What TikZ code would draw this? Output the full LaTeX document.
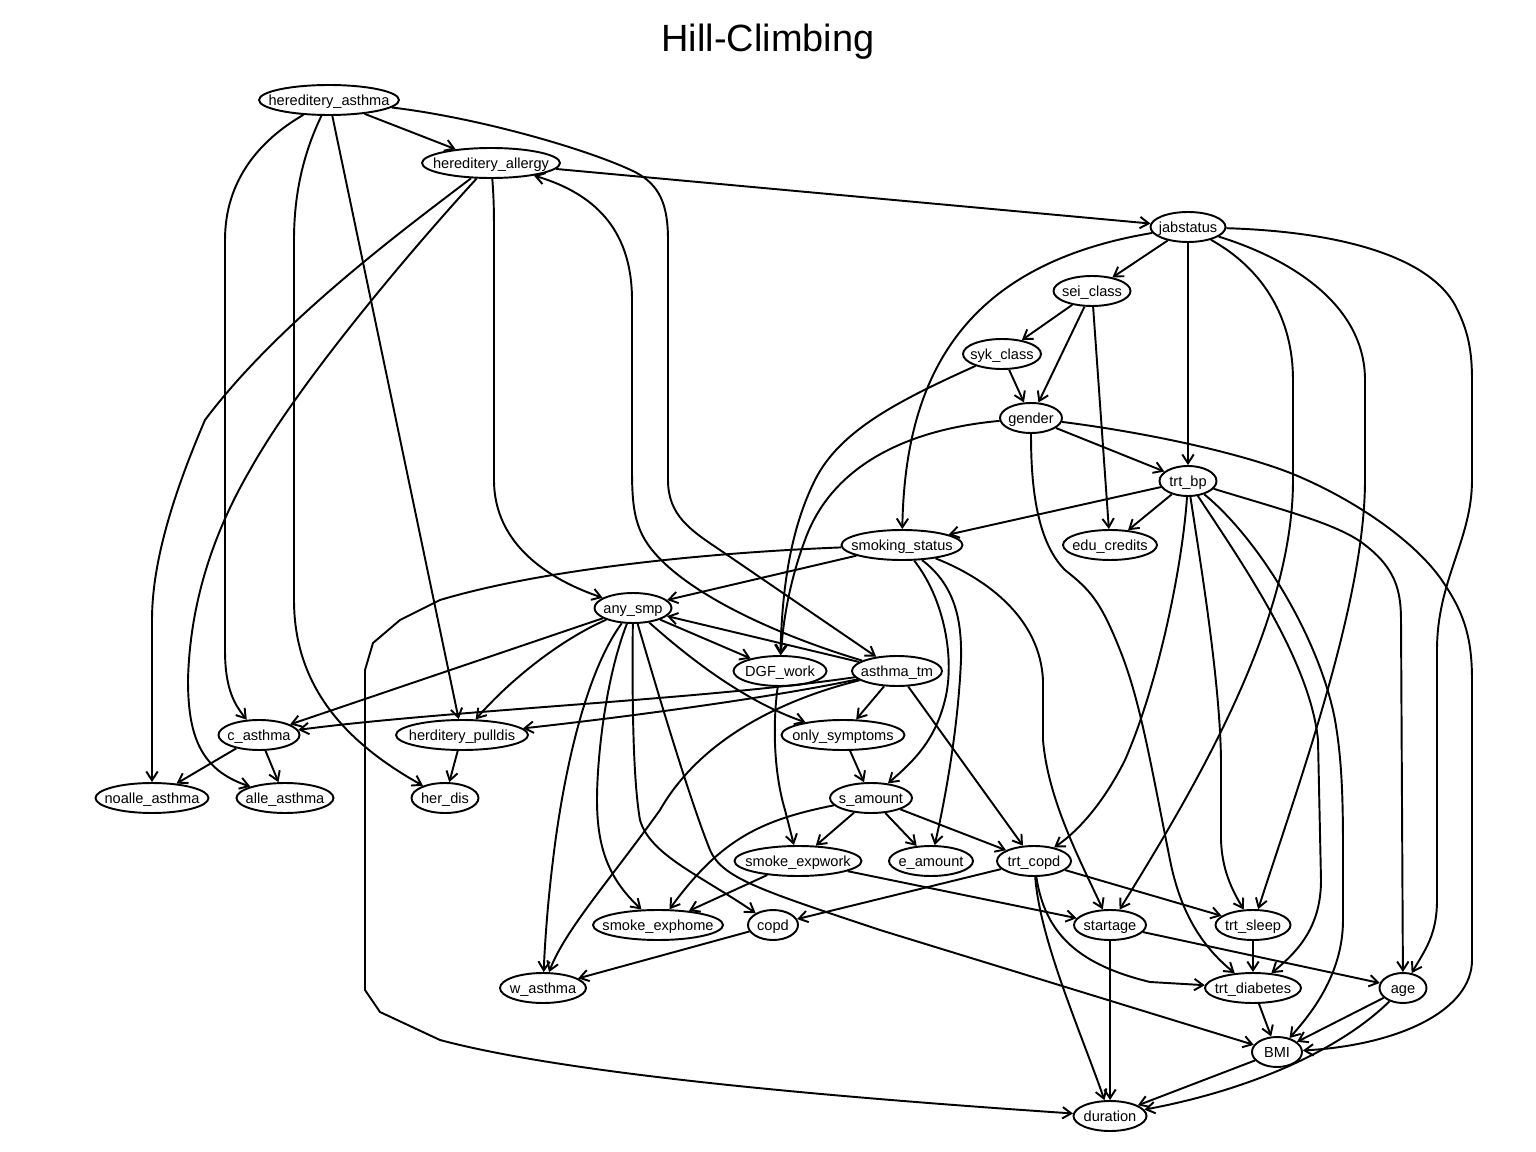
\documentclass[tikz,border=0pt]{standalone}
\usepackage{fontspec}
\setmainfont{Liberation Sans}
\usetikzlibrary{shapes.geometric,arrows.meta}

\begin{document}
\begin{tikzpicture}[x=0.02cm, y=-0.02cm,
        bn/.style={draw, ellipse, line width=1.1pt, inner sep=0pt, minimum height=0.6cm,
            text height=6pt, text depth=0pt, font=\fontsize{8.3}{10}\selectfont},
        edge/.style={line width=1.1pt, -{Straight Barb[length=5pt,width=6.5pt]}}]
    \useasboundingbox (0,0) rectangle (1536,1152);
    \node [anchor=base, font=\fontsize{21.6}{26}\selectfont] (title) at (768,52) {Hill-Climbing};
    \foreach \nm/\px/\py/\wd/\lbl in {
        hasthma/329/100/140/hereditery\_asthma,
        hallergy/491/163/138/hereditery\_allergy,
        jab/1188/227/75/jabstatus,
        sei/1092/291/77/sei\_class,
        syk/1002/354/78/syk\_class,
        gender/1031/418/62/gender,
        trtbp/1188/481/57/trt\_bp,
        smoking/902/545/121/smoking\_status,
        edu/1110/545/94/edu\_credits,
        anysmp/633/608/77/any\_smp,
        dgf/780/671/93/DGF\_work,
        asthmatm/897/671/90/asthma\_tm,
        casthma/259/735/81/c\_asthma,
        pulldis/462/735/132/herditery\_pulldis,
        onlysym/843/735/123/only\_symptoms,
        noalle/152/798/113/noalle\_asthma,
        alle/285/798/97/alle\_asthma,
        herdis/445/798/67/her\_dis,
        samount/871/798/82/s\_amount,
        expwork/798/861/127/smoke\_expwork,
        eamount/931/861/84/e\_amount,
        trtcopd/1034/861/74/trt\_copd,
        exphome/658/925/130/smoke\_exphome,
        copd/773/925/50/copd,
        startage/1110/925/72/startage,
        trtsleep/1253/925/75/trt\_sleep,
        wasthma/543/988/86/w\_asthma,
        trtdiab/1253/988/96/trt\_diabetes,
        age/1403/988/47/age,
        bmi/1277/1052/50/BMI,
        duration/1110/1116/73/duration}
    {
        \node [bn, minimum width=\wd*0.02cm] (\nm) at (\px,\py) {\makebox[0pt]{\lbl}};
    }
    \foreach \a/\b in {hasthma/hallergy, hasthma/pulldis, hallergy/jab, jab/sei, jab/trtbp,
        sei/syk, sei/gender, sei/edu, syk/gender, gender/trtbp, trtbp/smoking, trtbp/edu,
        smoking/anysmp, anysmp/dgf, anysmp/casthma, asthmatm/anysmp, asthmatm/onlysym,
        asthmatm/trtcopd, casthma/noalle, casthma/alle, pulldis/herdis, onlysym/samount,
        samount/expwork, samount/eamount, samount/trtcopd, expwork/exphome, expwork/startage,
        trtcopd/copd, trtcopd/trtsleep, copd/wasthma, startage/age, startage/duration,
        trtsleep/trtdiab, trtdiab/bmi, age/bmi, bmi/duration}
    {
        \draw [edge] (\a) -- (\b);
    }
    \draw [edge] (hasthma) .. controls (260,140) and (225,180) .. (225,240) -- (225,650) .. controls (225,690) and (235,705) .. (casthma);
    \draw [edge] (hasthma) .. controls (305,150) and (294,190) .. (294,240) -- (294,600) .. controls (294,690) and (350,745) .. (herdis);
    \draw [edge] (hasthma) .. controls (480,118) and (590,150) .. (635,172) .. controls (660,185) and (668,205) .. (668,240) -- (668,480) .. controls (668,515) and (690,530) .. (720,550) -- (asthmatm);
    \draw [edge] (hallergy) .. controls (410,225) and (280,320) .. (205,420) .. controls (175,490) and (152,560) .. (152,620) -- (noalle);
    \draw [edge] (hallergy) .. controls (420,240) and (300,380) .. (250,470) .. controls (215,530) and (190,600) .. (188,680) .. controls (188,735) and (200,770) .. (alle);
    \draw [edge] (hallergy) .. controls (494,200) and (494,215) .. (494,240) -- (494,480) .. controls (494,545) and (550,580) .. (anysmp);
    \draw [edge] (asthmatm) .. controls (760,630) and (660,580) .. (640,530) .. controls (634,515) and (632,500) .. (632,470) -- (632,300) .. controls (632,235) and (600,195) .. (hallergy);
    \draw [edge] (jab) .. controls (960,265) and (905,380) .. (smoking);
    \draw [edge] (jab) .. controls (1265,270) and (1293,320) .. (1293,380) -- (1293,480) .. controls (1293,620) and (1200,780) .. (startage);
    \draw [edge] (jab) .. controls (1300,262) and (1365,310) .. (1365,380) -- (1365,480) .. controls (1365,600) and (1300,780) .. (trtsleep);
    \draw [edge] (jab) .. controls (1350,232) and (1430,260) .. (1455,305) .. controls (1468,330) and (1472,350) .. (1472,380) -- (1472,480) .. controls (1472,540) and (1437,580) .. (1437,650) -- (1437,900) .. controls (1437,935) and (1425,950) .. (age);
    \draw [edge] (syk) .. controls (900,400) and (840,430) .. (815,480) .. controls (790,530) and (782,590) .. (dgf);
    \draw [edge] (gender) .. controls (900,430) and (830,470) .. (805,540) .. controls (790,580) and (783,620) .. (dgf);
    \draw [edge] (gender) .. controls (1150,433) and (1250,455) .. (1300,477) .. controls (1360,503) and (1420,545) .. (1445,585) .. controls (1465,615) and (1472,640) .. (1472,680) -- (1472,960) .. controls (1472,1010) and (1400,1045) .. (bmi);
    \draw [edge] (gender) .. controls (1031,480) and (1035,540) .. (1065,570) .. controls (1090,590) and (1100,600) .. (1120,650) .. controls (1140,700) and (1150,760) .. (1170,860) .. controls (1180,910) and (1200,945) .. (trtdiab);
    \draw [edge] (trtbp) .. controls (1183,560) and (1160,680) .. (1125,760) .. controls (1105,800) and (1080,830) .. (trtcopd);
    \draw [edge] (trtbp) .. controls (1200,560) and (1220,680) .. (1221,760) -- (1221,840) .. controls (1222,870) and (1232,890) .. (trtsleep);
    \draw [edge] (trtbp) .. controls (1240,560) and (1310,660) .. (1318,740) -- (1321,880) .. controls (1321,925) and (1300,950) .. (trtdiab);
    \draw [edge] (trtbp) .. controls (1260,540) and (1320,640) .. (1335,720) .. controls (1342,760) and (1343,800) .. (1343,850) -- (1343,920) .. controls (1343,975) and (1310,1015) .. (bmi);
    \draw [edge] (trtbp) .. controls (1290,512) and (1340,525) .. (1365,545) .. controls (1395,568) and (1401,590) .. (1401,620) -- (age);
    \draw [edge] (smoking) .. controls (700,553) and (540,570) .. (440,600) -- (400,620) -- (373,643) -- (365,670) -- (365,990) -- (380,1012) -- (440,1040) .. controls (560,1072) and (800,1095) .. (duration);
    \draw [edge] (smoking) .. controls (945,600) and (955,660) .. (945,700) .. controls (935,740) and (915,760) .. (samount);
    \draw [edge] (smoking) .. controls (955,585) and (962,620) .. (961,660) .. controls (958,730) and (945,800) .. (eamount);
    \draw [edge] (smoking) .. controls (990,580) and (1040,620) .. (1043,680) -- (1043,740) .. controls (1048,800) and (1080,860) .. (startage);
    \draw [edge] (anysmp) .. controls (560,640) and (510,680) .. (pulldis);
    \draw [edge] (anysmp) .. controls (680,650) and (740,700) .. (onlysym);
    \draw [edge] (anysmp) .. controls (580,680) and (560,800) .. (553,860) .. controls (548,900) and (545,940) .. (wasthma);
    \draw [edge] (anysmp) .. controls (605,680) and (597,760) .. (597,800) .. controls (597,850) and (610,880) .. (exphome);
    \draw [edge] (anysmp) .. controls (632,700) and (633,780) .. (640,820) .. controls (650,855) and (700,875) .. (copd);
    \draw [edge] (anysmp) .. controls (660,700) and (690,800) .. (710,850) .. controls (722,878) and (760,890) .. (880,930) -- (bmi);
    \draw [edge] (asthmatm) .. controls (700,700) and (450,710) .. (casthma);
    \draw [edge] (asthmatm) .. controls (760,700) and (600,720) .. (pulldis);
    \draw [edge] (asthmatm) .. controls (780,700) and (700,740) .. (660,810) .. controls (610,880) and (565,930) .. (wasthma);
    \draw [edge] (dgf) .. controls (773,720) and (773,770) .. (785,810) -- (expwork);
    \draw [edge] (samount) .. controls (760,820) and (720,840) .. (exphome);
    \draw [edge] (trtcopd) .. controls (1045,935) and (1080,965) .. (1150,982) -- (trtdiab);
    \draw [edge] (trtcopd) .. controls (1040,940) and (1080,1030) .. (duration);
    \draw [edge] (age) .. controls (1340,1050) and (1250,1090) .. (duration);
\end{tikzpicture}
\end{document}
